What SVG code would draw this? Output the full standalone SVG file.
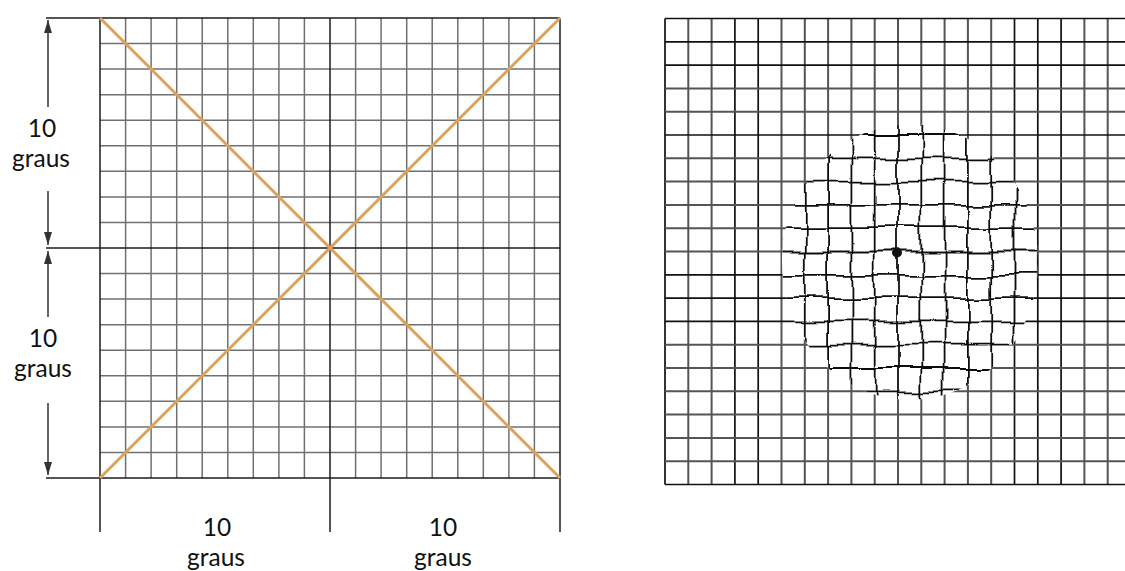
<svg xmlns="http://www.w3.org/2000/svg" width="1125" height="571" viewBox="0 0 1125 571">
<style>
.g{stroke:#707070;stroke-width:1.5;fill:none}
.d{stroke:#1e1e1e;stroke-width:1.5;fill:none}
.rg{stroke:#555;stroke-width:2;fill:none}
.rd{stroke:#111;stroke-width:1.7;fill:none}
.w{stroke:#111;stroke-width:1.8;fill:none}
.diag{stroke:#DDA15E;stroke-width:3;fill:none}
.arr{stroke:#333;stroke-width:1.5;fill:none;marker-end:url(#ah)}
.t{font-family:Lato,"Open Sans","DejaVu Sans",sans-serif;font-size:24.5px;fill:#111;text-anchor:middle}
</style>
<defs>
<marker id="ah" markerUnits="userSpaceOnUse" markerWidth="13" markerHeight="8" refX="13" refY="4" orient="auto" viewBox="0 0 13 8">
<path d="M0,0 L13,4 L0,8 z" fill="#333"/>
</marker>
<filter id="wob" filterUnits="userSpaceOnUse" x="740" y="90" width="340" height="350">
<feTurbulence type="fractalNoise" baseFrequency="0.024" numOctaves="1" seed="11" result="n"/>
<feDisplacementMap in="SourceGraphic" in2="n" scale="13" xChannelSelector="R" yChannelSelector="G"/>
</filter>
<clipPath id="blob"><ellipse cx="910" cy="262" rx="128" ry="138"/></clipPath>
</defs>
<rect width="1125" height="571" fill="#fff"/>

<g id="left-grid">
<path class="g" d="M125.6,18V478M151.1,18V478M176.7,18V478M202.2,18V478M227.8,18V478M253.3,18V478M278.9,18V478M304.4,18V478M355.6,18V478M381.1,18V478M406.7,18V478M432.2,18V478M457.8,18V478M483.3,18V478M508.9,18V478M534.4,18V478"/>
<path class="g" d="M100,43.6H560M100,69.1H560M100,94.7H560M100,120.2H560M100,145.8H560M100,171.3H560M100,196.9H560M100,222.4H560M100,273.6H560M100,299.1H560M100,324.7H560M100,350.2H560M100,375.8H560M100,401.3H560M100,426.9H560M100,452.4H560"/>
<path class="d" d="M46,18H560M46,248H560M46,478H560M100,18V532M330,18V532M560,18V532"/>
<path class="diag" d="M100,18L560,478M100,478L560,18"/>
</g>

<g id="connectors">
<line class="arr" x1="48" y1="107" x2="48" y2="20"/>
<line class="arr" x1="48" y1="191" x2="48" y2="245"/>
<line class="arr" x1="48" y1="317" x2="48" y2="251"/>
<line class="arr" x1="48" y1="403" x2="48" y2="475"/>
</g>

<g id="labels">
<text class="t" x="42" y="137">10</text>
<text class="t" x="41" y="167">graus</text>
<text class="t" x="43" y="347">10</text>
<text class="t" x="43" y="377">graus</text>
<text class="t" x="217" y="536">10</text>
<text class="t" x="216" y="566">graus</text>
<text class="t" x="443" y="536">10</text>
<text class="t" x="443" y="566">graus</text>
</g>

<g id="right-grid">
<path class="rg" d="M688.3,18.5V484.5M711.6,18.5V484.5M781.5,18.5V484.5M804.8,18.5V484.5M828.1,18.5V484.5M851.4,18.5V484.5M874.7,18.5V484.5M898,18.5V484.5M921.3,18.5V484.5M944.6,18.5V484.5M967.9,18.5V484.5M991.2,18.5V484.5M1084.4,18.5V484.5M1107.7,18.5V484.5"/>
<path class="rd" d="M665,18.5V484.5M734.9,18.5V484.5M758.2,18.5V484.5M1014.5,18.5V484.5M1037.8,18.5V484.5M1061.1,18.5V484.5"/>
<path class="rg" d="M665,88.4H1125M665,111.7H1125M665,158.3H1125M665,181.6H1125M665,204.9H1125M665,228.2H1125M665,251.5H1125M665,344.7H1125M665,368H1125M665,391.3H1125M665,414.6H1125M665,437.9H1125M665,461.2H1125"/>
<path class="rd" d="M665,18.5H1125M665,41.8H1125M665,65.1H1125M665,135H1125M665,274.8H1125M665,298.1H1125M665,321.4H1125M665,484.5H1125"/>
<ellipse cx="910" cy="262" rx="128" ry="138" fill="#fff"/>
<g clip-path="url(#blob)">
<g filter="url(#wob)">
<path class="w" d="M781.5,100V430M804.8,100V430M828.1,100V430M851.4,100V430M874.7,100V430M898,100V430M921.3,100V430M944.6,100V430M967.9,100V430M991.2,100V430M1014.5,100V430M1037.8,100V430"/>
<path class="w" d="M760,111.7H1060M760,135H1060M760,158.3H1060M760,181.6H1060M760,204.9H1060M760,228.2H1060M760,251.5H1060M760,274.8H1060M760,298.1H1060M760,321.4H1060M760,344.7H1060M760,368H1060M760,391.3H1060M760,414.6H1060"/>
</g>
</g>
<circle cx="897" cy="252.5" r="5" fill="#111"/>
</g>
</svg>
